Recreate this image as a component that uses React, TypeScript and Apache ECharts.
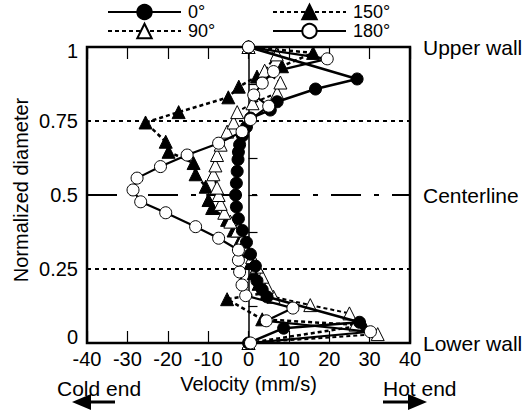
import React, { useEffect, useRef } from "react";
import * as echarts from "echarts";

// ---- data (velocity in mm/s, normalized diameter) ----
const seriesNames = ["0°", "90°", "150°", "180°"];

const vel0 = [0, 8.7, 27.5, 4.6, 3.4, 2.1, 1.7, 0.5, -0.5, -1.5, -2.5, -3, -3.2, -3, -2.8, -2.6, -2.5, -2.2, -1.5, -0.5, 0.5, 5.4, 7.1, 16.6, 26.9, 0];
const pos0 = [0, 0.05, 0.07, 0.156, 0.18, 0.21, 0.26, 0.3, 0.34, 0.38, 0.42, 0.46, 0.5, 0.54, 0.58, 0.62, 0.645, 0.67, 0.7, 0.73, 0.76, 0.787, 0.815, 0.858, 0.892, 1];

const vel90 = [0, 32, 26.5, 25, 15.3, 6.2, 4.6, 3.4, 2.1, 0.9, -0.5, -1.5, -2.8, -4.5, -6, -6.9, -7.4, -7.8, -8.7, -8.2, -7.8, -6.9, -5.3, -3.7, -2.8, 1, 7.1, 7.9, 4, 7, 0];
const pos90 = [0, 0.03, 0.062, 0.1, 0.128, 0.156, 0.19, 0.224, 0.258, 0.29, 0.32, 0.35, 0.38, 0.41, 0.44, 0.47, 0.5, 0.525, 0.57, 0.6, 0.635, 0.67, 0.714, 0.745, 0.78, 0.81, 0.845, 0.88, 0.92, 0.975, 1];

const vel150 = [0, 28.5, 3.4, -5.3, 4.6, 2.5, 1.3, 0.5, -0.5, -2, -3.7, -5.3, -9, -9.9, -10.6, -13.1, -13.6, -19.8, -20.5, -25.5, -17.3, -5, -2.4, 2.1, 8.3, 16, 0];
const pos150 = [0, 0.06, 0.08, 0.148, 0.17, 0.2, 0.236, 0.27, 0.31, 0.35, 0.38, 0.416, 0.456, 0.483, 0.528, 0.57, 0.608, 0.646, 0.68, 0.745, 0.78, 0.83, 0.866, 0.9, 0.935, 0.98, 1];

const vel180 = [0.5, 30.2, 4.4, 11, -0.7, -1.6, -2.2, -2.5, -2.5, -7.4, -13.1, -20.5, -26.7, -28.6, -27.6, -21.8, -15.2, -7.4, -1.6, 0.5, 5, 1.3, 3.4, 6.2, 19.5, 0];
const pos180 = [0, 0.038, 0.075, 0.118, 0.16, 0.196, 0.24, 0.28, 0.314, 0.354, 0.393, 0.44, 0.477, 0.517, 0.557, 0.596, 0.635, 0.675, 0.714, 0.755, 0.8, 0.838, 0.878, 0.917, 0.96, 1];

const yTickValues = [0, 0.25, 0.5, 0.75, 1];
const yTickLabels = ["0", "0.25", "0.5", "0.75", "1"];

const referenceLevels = [0.75, 0.5, 0.25];
const wallLabels = ["Upper wall", "Centerline", "Lower wall"];
const wallLevels = [1, 0.5, 0];

const FONT = "'Liberation Sans', Arial, Helvetica, sans-serif";

export default function App() {
  const ref = useRef<HTMLDivElement>(null);

  useEffect(() => {
    if (!ref.current) return;
    const chart = echarts.init(ref.current, undefined, { renderer: "svg" });

    const gridLeft = 87;
    const gridTop = 47;
    const gridW = 323;
    const gridH = 296;
    const yPix = (v: number) => gridTop + (1 - v) * gridH;

    const mk = (
      name: string,
      xs: number[],
      ys: number[],
      symbol: string,
      filled: boolean,
      lineType: any,
      width: number,
      size: number,
      z: number,
      extra: any = {}
    ) => ({
      type: "line",
      name,
      data: xs.map((x, i) => [x, ys[i]]),
      symbol,
      symbolSize: size,
      showSymbol: true,
      clip: false,
      z,
      emphasis: { disabled: true },
      lineStyle: { color: "#000", width, type: lineType },
      itemStyle: {
        color: filled ? "#000" : "#fff",
        borderColor: "#000",
        borderWidth: 1,
        opacity: 1,
      },
      ...extra,
    });

    const refLineData: any[] = referenceLevels.map((lv) => ({
      yAxis: lv,
      lineStyle:
        lv === 0.5
          ? { type: [30, 13, 5, 13], width: 2, color: "#000" }
          : { type: [4, 4], width: 1.8, color: "#000" },
    }));
    refLineData.push({ xAxis: 0, lineStyle: { type: "solid", width: 1.5, color: "#000" } });

    const legendBase = {
      padding: 0,
      itemWidth: 73,
      itemHeight: 18,
      itemGap: 0,
      selectedMode: false,
      textStyle: { fontSize: 18, lineHeight: 18, fontFamily: FONT, color: "#000", padding: [0, 0, 0, 2] },
    };

    const textStyle = (txt: string, extra: any = {}) => ({
      text: txt,
      fontSize: 21,
      fontFamily: FONT,
      fill: "#000",
      ...extra,
    });

    const graphics: any[] = [];
    wallLabels.forEach((t, i) => {
      graphics.push({
        type: "text",
        x: 423,
        y: yPix(wallLevels[i]),
        style: textStyle(t, { verticalAlign: "middle", align: "left" }),
      });
    });
    graphics.push({
      type: "text",
      x: 21,
      y: 190,
      rotation: Math.PI / 2,
      style: textStyle("Normalized diameter", { align: "center", verticalAlign: "middle", fontSize: 20 }),
    });
    graphics.push({
      type: "text",
      x: 57,
      y: 388,
      style: textStyle("Cold end", { verticalAlign: "middle", align: "left" }),
    });
    graphics.push({
      type: "text",
      x: 383,
      y: 388,
      style: textStyle("Hot end", { verticalAlign: "middle", align: "left" }),
    });
    // arrows
    graphics.push({
      type: "line",
      shape: { x1: 115, y1: 402, x2: 84, y2: 402 },
      style: { stroke: "#000", lineWidth: 3 },
    });
    graphics.push({
      type: "polygon",
      shape: { points: [[72, 402], [91, 394], [91, 410]] },
      style: { fill: "#000" },
    });
    graphics.push({
      type: "line",
      shape: { x1: 383, y1: 402, x2: 414, y2: 402 },
      style: { stroke: "#000", lineWidth: 3 },
    });
    graphics.push({
      type: "polygon",
      shape: { points: [[427, 402], [408, 394], [408, 410]] },
      style: { fill: "#000" },
    });

    const option: any = {
      animation: false,
      backgroundColor: "#fff",
      textStyle: { fontFamily: FONT },
      grid: {
        left: gridLeft,
        top: gridTop,
        width: gridW,
        height: gridH,
        show: true,
        borderColor: "#000",
        borderWidth: 2.5,
        backgroundColor: "transparent",
      },
      legend: [
        { ...legendBase, data: [seriesNames[0]], left: 107, top: 3 },
        { ...legendBase, data: [seriesNames[1]], left: 107, top: 22 },
        { ...legendBase, data: [seriesNames[2]], left: 272, top: 3 },
        { ...legendBase, data: [seriesNames[3]], left: 272, top: 22 },
      ],
      xAxis: [
        {
          type: "value",
          min: -40,
          max: 40,
          interval: 10,
          position: "bottom",
          axisLine: { show: false },
          axisTick: { inside: true, length: 12, lineStyle: { color: "#000", width: 1.2 } },
          splitLine: { show: false },
          axisLabel: { color: "#000", fontSize: 20, fontFamily: FONT, margin: 6 },
          name: "Velocity (mm/s)",
          nameLocation: "middle",
          nameGap: 26,
          nameTextStyle: { color: "#000", fontSize: 20, fontFamily: FONT },
        },
        {
          type: "value",
          min: -40,
          max: 40,
          interval: 10,
          position: "top",
          axisLine: { show: false },
          axisTick: { inside: true, length: 12, lineStyle: { color: "#000", width: 1.2 } },
          splitLine: { show: false },
          axisLabel: { show: false },
        },
      ],
      yAxis: {
        type: "value",
        min: 0,
        max: 1,
        interval: 0.125,
        axisLine: { show: false },
        axisTick: { inside: true, length: 9, lineStyle: { color: "#000", width: 1.2 } },
        splitLine: { show: false },
        axisLabel: {
          color: "#000",
          fontSize: 20,
          fontFamily: FONT,
          margin: 9,
          rich: {
            lo: { fontSize: 20, fontFamily: FONT, color: "#000", padding: [0, 0, 12, 0] },
            hi: { fontSize: 20, fontFamily: FONT, color: "#000", padding: [8, 0, 0, 0] },
          },
          formatter: (v: number) => {
            const r = Math.round(v * 1000) / 1000;
            const idx = yTickValues.indexOf(r);
            if (idx < 0) return "";
            if (r === 0) return "{lo|" + yTickLabels[idx] + "}";
            if (r === 1) return "{hi|" + yTickLabels[idx] + "}";
            return yTickLabels[idx];
          },
        },
      },
      graphic: graphics,
      series: [
        mk(seriesNames[2], vel150, pos150, "triangle", true, [4, 3], 2.5, 13, 3, {
          markLine: {
            silent: true,
            symbol: ["none", "none"],
            label: { show: false },
            emphasis: { disabled: true },
            z: 1,
            data: refLineData,
          },
        }),
        mk(seriesNames[1], vel90, pos90, "triangle", false, [4, 3], 2, 13, 4),
        mk(seriesNames[0], vel0, pos0, "circle", true, "solid", 2.5, 12, 5),
        mk(seriesNames[3], vel180, pos180, "circle", false, "solid", 2.2, 12, 6),
      ],
    };

    chart.setOption(option);
    return () => chart.dispose();
  }, []);

  return (
    <div
      ref={ref}
      style={{ position: "fixed", left: 0, top: 0, width: 526, height: 410, background: "#fff" }}
    />
  );
}
